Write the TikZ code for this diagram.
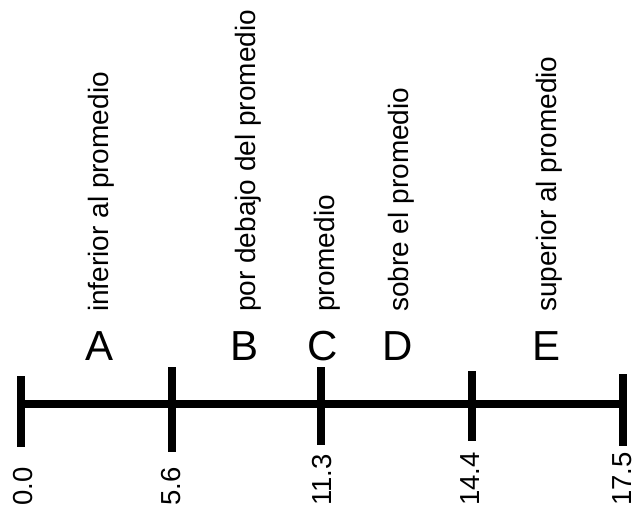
\documentclass[tikz,border=0pt]{standalone}
\usepackage{fontspec}
\setmainfont{Liberation Sans}
\begin{document}
\begin{tikzpicture}[x=1pt,y=-1pt,
  axis/.style={line width=8pt},
  tickmark/.style={line width=7.5pt},
  grade/.style={font=\fontsize{42}{46}\selectfont, inner sep=0pt, anchor=base},
  meaning/.style={font=\fontsize{28}{32}\selectfont, rotate=90, inner sep=0pt, anchor=base west},
  value/.style={font=\fontsize{27.5}{32}\selectfont, rotate=90, inner sep=0pt, anchor=base west}]
\useasboundingbox (0,0) rectangle (636,508);

% tick positions along the scale
\coordinate (p0) at (21,404);
\coordinate (p1) at (172,404);
\coordinate (p2) at (321,404);
\coordinate (p3) at (472,404);
\coordinate (p4) at (623,404);

% main axis
\draw[axis] (p0) -- (p4);

% ticks
\draw[tickmark] (21,376) -- (21,447);
\draw[tickmark] (172,367) -- (172,452);
\draw[tickmark] (321,367) -- (321,445);
\draw[tickmark] (472,371) -- (472,441);
\draw[tickmark] (623,374) -- (623,446);

% grade letters
\node[grade] (gA) at (100,360) {A};
\node[grade] (gB) at (245,360) {B};
\node[grade] (gC) at (323,360) {C};
\node[grade] (gD) at (398,360) {D};
\node[grade] (gE) at (546,360) {E};

% descriptions
\node[meaning] (dA) at (108,312) {inferior al promedio};
\node[meaning] (dB) at (255,312) {por debajo del promedio};
\node[meaning] (dC) at (334,312) {promedio};
\node[meaning] (dD) at (408,312) {sobre el promedio};
\node[meaning] (dE) at (556,312) {superior al promedio};

% boundary values
\node[value] (v0) at (32,506) {0.0};
\node[value] (v1) at (180,506) {5.6};
\node[value] (v2) at (331,506) {11.3};
\node[value] (v3) at (479,506) {14.4};
\node[value] (v4) at (631,506) {17.5};
\end{tikzpicture}
\end{document}
